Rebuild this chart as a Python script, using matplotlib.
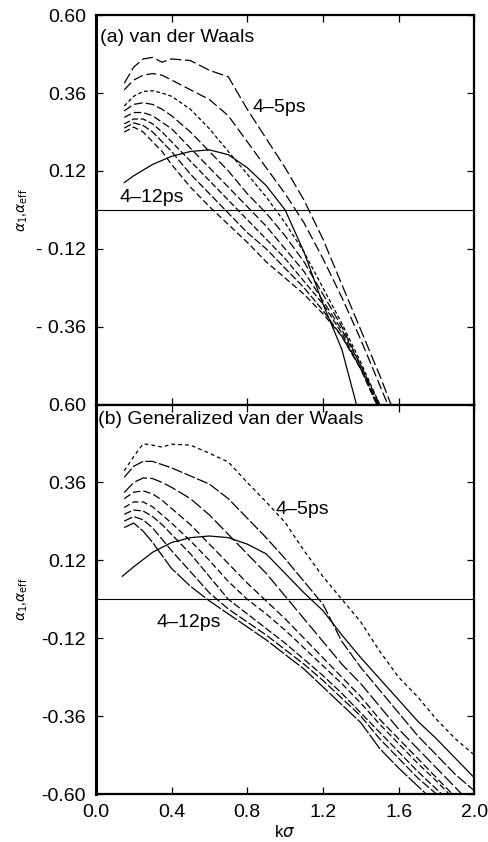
import numpy as np
import matplotlib
matplotlib.use("Agg")
import matplotlib.pyplot as plt

plt.rcParams['font.family'] = ['Liberation Sans', 'DejaVu Sans']

# ---- panel (a): van der Waals ----
ka = [0.15, 0.2, 0.25, 0.3, 0.35, 0.4, 0.5, 0.6, 0.7, 0.8, 0.9, 1.0, 1.1, 1.2, 1.3, 1.4, 1.5, 1.6]
a_c1 = [0.39, 0.44, 0.465, 0.47, 0.455, 0.465, 0.46, 0.43, 0.41, 0.31, 0.22, 0.13, 0.03, -0.09, -0.23, -0.37, -0.51, -0.66]
a_c2 = [0.37, 0.40, 0.415, 0.42, 0.415, 0.40, 0.37, 0.34, 0.29, 0.21, 0.13, 0.05, -0.04, -0.15, -0.27, -0.40, -0.54, -0.68]
a_c3 = [0.32, 0.35, 0.365, 0.367, 0.36, 0.35, 0.31, 0.25, 0.18, 0.11, 0.04, -0.04, -0.13, -0.24, -0.35, -0.47, -0.60, -0.74]
a_c4 = [0.305, 0.325, 0.33, 0.325, 0.31, 0.29, 0.24, 0.18, 0.12, 0.05, -0.01, -0.08, -0.16, -0.26, -0.36, -0.48, -0.60, -0.74]
a_c5 = [0.285, 0.30, 0.30, 0.29, 0.27, 0.25, 0.19, 0.13, 0.07, 0.01, -0.05, -0.12, -0.19, -0.28, -0.37, -0.48, -0.61, -0.75]
a_c6 = [0.265, 0.28, 0.28, 0.265, 0.24, 0.21, 0.15, 0.09, 0.03, -0.03, -0.09, -0.15, -0.22, -0.29, -0.38, -0.49, -0.61, -0.75]
a_c7 = [0.252, 0.268, 0.26, 0.24, 0.21, 0.18, 0.11, 0.05, -0.01, -0.07, -0.12, -0.18, -0.24, -0.31, -0.39, -0.49, -0.62, -0.76]
a_c8 = [0.24, 0.255, 0.24, 0.21, 0.18, 0.14, 0.07, 0.01, -0.045, -0.10, -0.16, -0.21, -0.26, -0.32, -0.39, -0.49, -0.62, -0.76]
ka_solid = [0.15, 0.2, 0.3, 0.4, 0.5, 0.6, 0.7, 0.8, 0.9, 1.0, 1.1, 1.2, 1.3, 1.4]
a_solid = [0.084, 0.105, 0.14, 0.165, 0.18, 0.185, 0.17, 0.13, 0.075, 0.0, -0.13, -0.29, -0.43, -0.65]

# ---- panel (b): generalized van der Waals ----
kb = [0.15, 0.2, 0.25, 0.3, 0.35, 0.4, 0.5, 0.6, 0.7, 0.8, 0.9, 1.0, 1.1, 1.2, 1.3, 1.4, 1.5, 1.6, 1.7, 1.8, 1.9, 2.0]
b_c1 = [0.396, 0.44, 0.479, 0.475, 0.469, 0.478, 0.475, 0.45, 0.423, 0.36, 0.30, 0.237, 0.15, 0.07, 0.00, -0.07, -0.16, -0.24, -0.30, -0.37, -0.43, -0.48]
b_c2 = [0.376, 0.41, 0.425, 0.425, 0.415, 0.405, 0.38, 0.355, 0.31, 0.25, 0.19, 0.125, 0.055, -0.015, -0.13, -0.21, -0.28, -0.35, -0.42, -0.48, -0.54, -0.59]
b_c3 = [0.329, 0.36, 0.374, 0.372, 0.36, 0.345, 0.31, 0.26, 0.20, 0.14, 0.08, 0.01, -0.06, -0.13, -0.20, -0.26, -0.33, -0.40, -0.46, -0.52, -0.58, -0.64]
b_c4 = [0.31, 0.33, 0.334, 0.325, 0.305, 0.28, 0.23, 0.17, 0.11, 0.05, -0.005, -0.06, -0.12, -0.18, -0.24, -0.30, -0.37, -0.43, -0.49, -0.55, -0.61, -0.67]
b_c5 = [0.283, 0.30, 0.30, 0.285, 0.26, 0.235, 0.18, 0.12, 0.055, 0.0, -0.045, -0.095, -0.15, -0.205, -0.26, -0.32, -0.385, -0.445, -0.505, -0.56, -0.62, -0.68]
b_c6 = [0.262, 0.275, 0.272, 0.255, 0.23, 0.20, 0.14, 0.07, 0.0, -0.045, -0.09, -0.135, -0.185, -0.235, -0.29, -0.35, -0.41, -0.47, -0.53, -0.585, -0.64, -0.70]
b_c7 = [0.241, 0.255, 0.245, 0.22, 0.185, 0.15, 0.085, 0.02, -0.03, -0.07, -0.11, -0.155, -0.20, -0.25, -0.305, -0.36, -0.43, -0.49, -0.55, -0.60, -0.66, -0.72]
b_c8 = [0.221, 0.235, 0.21, 0.175, 0.135, 0.095, 0.04, -0.005, -0.045, -0.085, -0.125, -0.17, -0.215, -0.27, -0.325, -0.38, -0.46, -0.52, -0.575, -0.63, -0.69, -0.75]
kb_solid = [0.14, 0.2, 0.3, 0.4, 0.5, 0.6, 0.7, 0.8, 0.9, 1.0, 1.1, 1.2, 1.3, 1.4, 1.5, 1.6, 1.7, 1.8, 1.9, 2.0]
b_solid = [0.071, 0.10, 0.145, 0.175, 0.19, 0.195, 0.19, 0.17, 0.14, 0.08, 0.02, -0.035, -0.11, -0.18, -0.245, -0.31, -0.375, -0.43, -0.49, -0.55]

yticks = [0.60, 0.36, 0.12, -0.12, -0.36, -0.60]
ytick_labels_a = ["0.60", "0.36", "0.12", "- 0.12", "- 0.36", ""]
ytick_labels_b = ["0.60", "0.36", "0.12", "-0.12", "-0.36", "-0.60"]
xticks = [0.0, 0.4, 0.8, 1.2, 1.6, 2.0]
xtick_labels = ["0.0", "0.4", "0.8", "1.2", "1.6", "2.0"]

dashes_a = [(9, 3), (8, 3), (3, 2), (7, 2.5), (6, 2.5), (5, 2), (6, 2), (5, 2.5)]
dashes_b = [(3, 2.5), (9, 2), (10, 2.5), (6, 2.5), (5, 2.5), (6, 2), (7, 2), (14, 1.5)]

fig = plt.figure(figsize=(4.89, 8.42), dpi=100)
gs = fig.add_gridspec(2, 1, left=0.196, right=0.970, top=0.982, bottom=0.057, hspace=0)
ax_a = fig.add_subplot(gs[0])
ax_b = fig.add_subplot(gs[1], sharex=ax_a)

curves_a = [a_c1, a_c2, a_c3, a_c4, a_c5, a_c6, a_c7, a_c8]
curves_b = [b_c1, b_c2, b_c3, b_c4, b_c5, b_c6, b_c7, b_c8]

for ys, d in zip(curves_a, dashes_a):
    ax_a.plot(ka, ys, color='black', lw=0.9, dashes=d)
ax_a.plot(ka_solid, a_solid, color='black', lw=0.9)

for ys, d in zip(curves_b, dashes_b):
    ax_b.plot(kb, ys, color='black', lw=0.9, dashes=d)
ax_b.plot(kb_solid, b_solid, color='black', lw=0.9)

for ax, labels in [(ax_a, ytick_labels_a), (ax_b, ytick_labels_b)]:
    ax.axhline(0, color='black', lw=0.8)
    ax.set_xlim(0, 2.0)
    ax.set_ylim(-0.60, 0.60)
    ax.set_yticks(yticks)
    ax.set_yticklabels(labels)
    ax.set_xticks(xticks)
    ax.tick_params(direction='in', length=5, width=0.9, top=True, right=True,
                   labelsize=14, pad=7)
    for s in ax.spines.values():
        s.set_linewidth(1.6)
    ax.spines['left'].set_linewidth(2.2)
    ax.set_ylabel(r'$\alpha_1$,$\alpha_{\rm eff}$', fontsize=10)
    ax.yaxis.set_label_coords(-0.175, 0.5)

ax_a.tick_params(labelbottom=False)
ax_b.set_xticklabels(xtick_labels)
ax_b.set_xlabel(r'k$\sigma$', fontsize=12, labelpad=2)

ax_a.text(0.02, 0.53, "(a) van der Waals", fontsize=14, va='center', ha='left')
ax_a.text(0.83, 0.314, "4\u20135ps", fontsize=14, va='center', ha='left')
ax_a.text(0.125, 0.037, "4\u201312ps", fontsize=14, va='center', ha='left')

ax_b.text(0.01, 0.555, "(b) Generalized van der Waals", fontsize=14, va='center', ha='left')
ax_b.text(0.95, 0.278, "4\u20135ps", fontsize=14, va='center', ha='left')
ax_b.text(0.32, -0.07, "4\u201312ps", fontsize=14, va='center', ha='left')

fig.savefig("out.png", dpi=100)
